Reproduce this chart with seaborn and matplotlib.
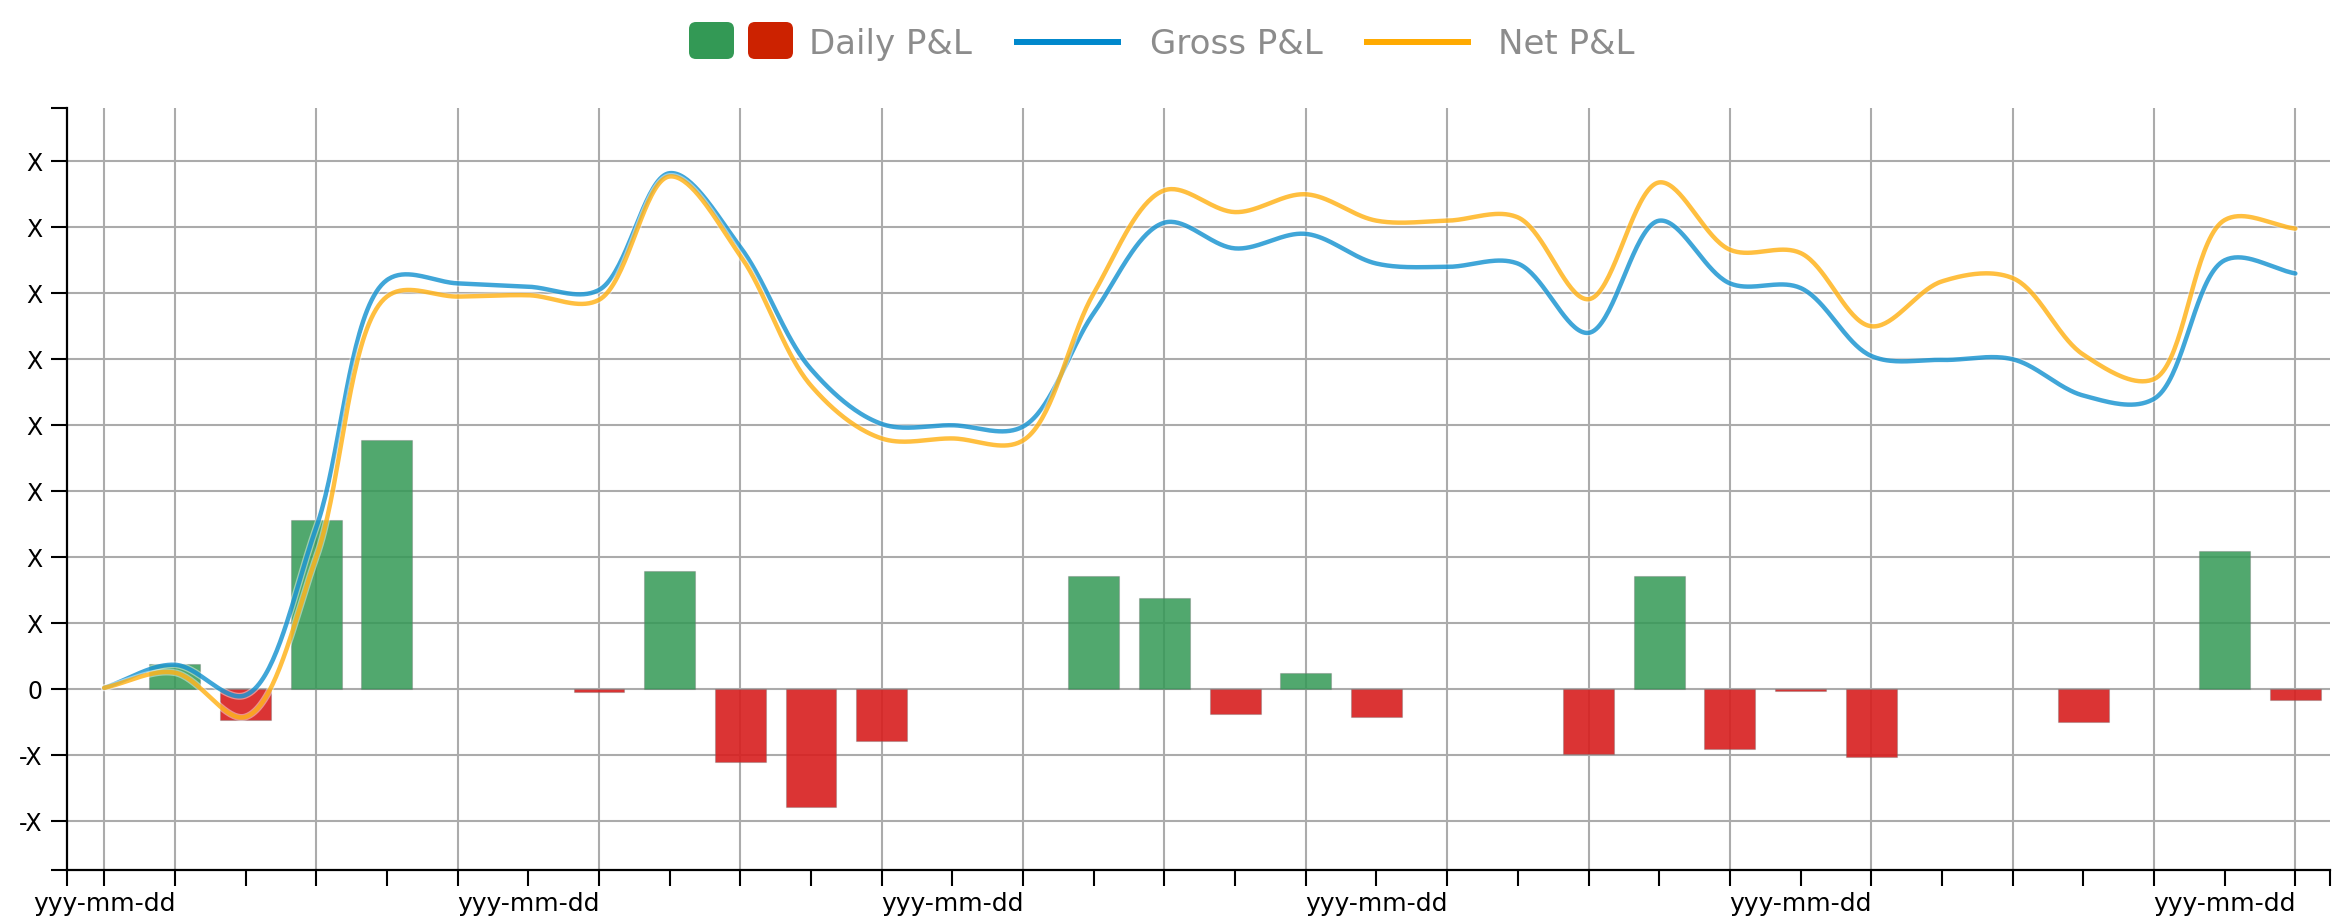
import numpy as np
import pandas as pd
import matplotlib
matplotlib.use("Agg")
import matplotlib.pyplot as plt
import matplotlib.patheffects as pe
from matplotlib.patches import FancyBboxPatch
import seaborn as sns

# ---------------- data ----------------
days = list(range(32))
daily_pnl = [0, 0.376, -0.46, 2.56, 3.77, 0, 0, -0.045, 1.79, -1.11, -1.79, -0.78,
             0, 0, 1.71, 1.38, -0.38, 0.25, -0.42, 0, 0, -0.985, 1.71, -0.91,
             -0.02, -1.02, 0, 0, -0.5, 0, 2.1, -0.17]
gross_pnl = [0.02, 0.37, -0.09, 2.45, 6.2, 6.15, 6.1, 6.05, 7.82, 6.7, 4.85, 4.02,
             4.0, 3.98, 5.7, 7.07, 6.68, 6.9, 6.45, 6.4, 6.45, 5.4, 7.1, 6.15,
             6.08, 5.05, 4.99, 5.0, 4.45, 4.4, 6.5, 6.3]
net_pnl = [0.02, 0.25, -0.42, 2.0, 5.95, 5.95, 5.97, 5.9, 7.77, 6.57, 4.6, 3.8,
           3.8, 3.77, 6.0, 7.56, 7.23, 7.5, 7.1, 7.1, 7.15, 5.91, 7.68, 6.66,
           6.61, 5.5, 6.18, 6.23, 5.07, 4.7, 7.11, 6.98]
y_ticks = [-2, -1, 0, 1, 2, 3, 4, 5, 6, 7, 8]
y_tick_labels = ["-X", "-X", "0", "X", "X", "X", "X", "X", "X", "X", "X"]
x_label_days = [0, 6, 12, 18, 24, 30]
x_label_text = ["yyy-mm-dd"] * 6
grid_days = [0, 1, 3, 5, 7, 9, 11, 13, 15, 17, 19, 21, 23, 25, 27, 29, 31]

# ---------------- helpers ----------------
def catmull_rom(xs, ys, sx, sy, n=40, alpha=0.5):
    """Centripetal Catmull-Rom rendering through the given knots (like d3.curveCatmullRom)."""
    P = np.column_stack([np.asarray(xs, float) * sx, np.asarray(ys, float) * sy])
    P = np.vstack([2 * P[0] - P[1], P, 2 * P[-1] - P[-2]])
    out = []
    for i in range(1, len(P) - 2):
        p0, p1, p2, p3 = P[i - 1], P[i], P[i + 1], P[i + 2]
        def tj(ti, a, b):
            return ti + max(np.linalg.norm(b - a), 1e-6) ** alpha
        t0 = 0.0
        t1 = tj(t0, p0, p1)
        t2 = tj(t1, p1, p2)
        t3 = tj(t2, p2, p3)
        t = np.linspace(t1, t2, n)[:, None]
        A1 = (t1 - t) / (t1 - t0) * p0 + (t - t0) / (t1 - t0) * p1
        A2 = (t2 - t) / (t2 - t1) * p1 + (t - t1) / (t2 - t1) * p2
        A3 = (t3 - t) / (t3 - t2) * p2 + (t - t2) / (t3 - t2) * p3
        B1 = (t2 - t) / (t2 - t0) * A1 + (t - t0) / (t2 - t0) * A2
        B2 = (t3 - t) / (t3 - t1) * A2 + (t - t1) / (t3 - t1) * A3
        C = (t2 - t) / (t2 - t1) * B1 + (t - t1) / (t2 - t1) * B2
        out.append(C if i == 1 else C[1:])
    C = np.vstack(out)
    return C[:, 0] / sx, C[:, 1] / sy

# ---------------- figure ----------------
sns.set_theme(style="white")
plt.rcParams["font.family"] = ["DejaVu Sans"]

W, H = 2350, 923
fig = plt.figure(figsize=(W / 100, H / 100), dpi=100)
ax_left, ax_right, ax_top, ax_bottom = 66.7, 2330, 108.5, 870
ax = fig.add_axes([ax_left / W, 1 - ax_bottom / H, (ax_right - ax_left) / W, (ax_bottom - ax_top) / H])

xlim = (-0.53, 31.49)
ylim = (-2.74, 8.80)

# grid
for yv in y_ticks:
    ax.axhline(yv, color="#ababab", lw=1.5, zorder=0)
for xv in grid_days:
    ax.axvline(xv, color="#ababab", lw=1.5, zorder=0)

# bars
bar_df = pd.DataFrame({"day": days, "pnl": daily_pnl})
bar_df = bar_df[bar_df["pnl"] != 0].copy()
bar_df["sign"] = np.where(bar_df["pnl"] > 0, "gain", "loss")
sns.barplot(data=bar_df, x="day", y="pnl", hue="sign",
            palette={"gain": "#339955", "loss": "#d81e1e"},
            native_scale=True, width=0.72, dodge=False, saturation=1,
            legend=False, edgecolor="#8a8a8a", linewidth=0.8, ax=ax, zorder=2)
for p in ax.patches:
    fc = p.get_facecolor()
    a = 0.85 if fc[1] > fc[0] else 0.9
    p.set_facecolor((fc[0], fc[1], fc[2], a))
    p.set_edgecolor((0.45, 0.45, 0.45, 0.35))

# lines
sx = (ax_right - ax_left) / (xlim[1] - xlim[0])
sy = (ax_bottom - ax_top) / (ylim[1] - ylim[0])
for series, col in [(gross_pnl, "#0088cc"), (net_pnl, "#ffaa00")]:
    cx, cy = catmull_rom(days, series, sx, sy)
    sns.lineplot(x=cx, y=cy, sort=False, estimator=None, color=col, lw=3.2,
                 alpha=0.75, ax=ax, zorder=4,
                 path_effects=[pe.Stroke(linewidth=5.0, foreground="white", alpha=0.45), pe.Normal()])

ax.set_xlim(*xlim)
ax.set_ylim(*ylim)

# ticks (including d3-like outer ticks at the domain ends)
xt = [xlim[0]] + days + [xlim[1]]
xl = [""] + [x_label_text[x_label_days.index(d)] if d in x_label_days else "" for d in days] + [""]
ax.set_xticks(xt)
ax.set_xticklabels(xl)
yt = [ylim[0]] + y_ticks + [ylim[1]]
yl = [""] + y_tick_labels + [""]
ax.set_yticks(yt)
ax.set_yticklabels(yl)
ax.tick_params(axis="both", which="major", direction="out", length=11.5, width=1.5,
               color="black", left=True, bottom=True)
ax.tick_params(axis="y", labelsize=17, pad=6, labelcolor="black")
ax.tick_params(axis="x", labelsize=18, pad=4, labelcolor="black")
ax.set_xlabel("")
ax.set_ylabel("")
for s in ["top", "right"]:
    ax.spines[s].set_visible(False)
for s in ["left", "bottom"]:
    ax.spines[s].set_visible(True)
    ax.spines[s].set_color("black")
    ax.spines[s].set_linewidth(1.6)

# ---------------- legend (pixel space overlay) ----------------
lg = fig.add_axes([0, 0, 1, 1], zorder=10)
lg.set_xlim(0, W)
lg.set_ylim(H, 0)
lg.axis("off")
lg.patch.set_alpha(0)
for x0, col in [(689, "#339955"), (748, "#cc2200")]:
    lg.add_patch(FancyBboxPatch((x0, 22), 45, 37, boxstyle="round,pad=0,rounding_size=7",
                                facecolor=col, edgecolor="none"))
txt_kw = dict(fontsize=24.5, color="#8c8c8c", va="baseline", ha="left")
lg.text(809, 54, "Daily P&L", **txt_kw)
lg.plot([1014, 1121], [42, 42], color="#0088cc", lw=4.3, solid_capstyle="butt")
lg.text(1150, 54, "Gross P&L", **txt_kw)
lg.plot([1364, 1471], [42, 42], color="#ffaa00", lw=4.3, solid_capstyle="butt")
lg.text(1498, 54, "Net P&L", **txt_kw)

fig.savefig("out.png", dpi=100)
